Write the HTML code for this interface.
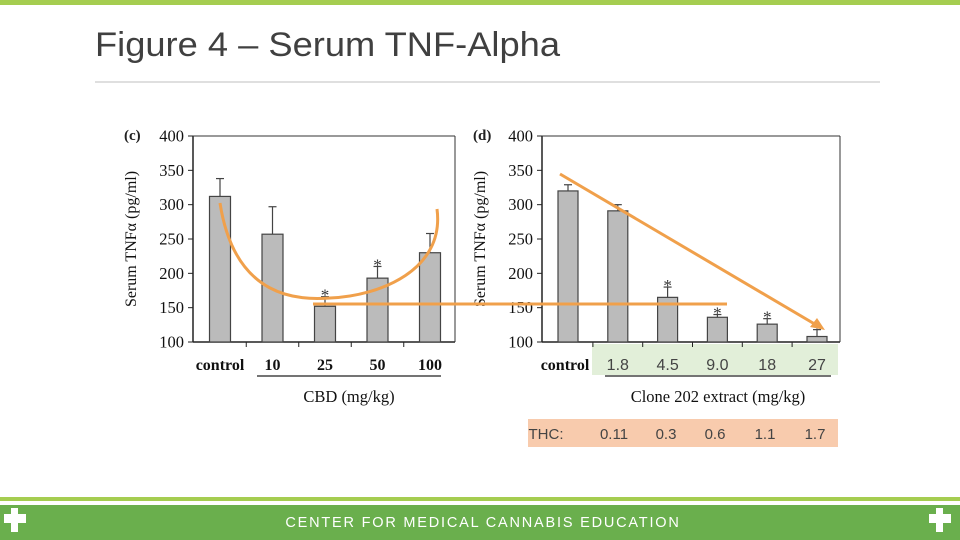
<!DOCTYPE html>
<html><head><meta charset="utf-8"><style>
body{margin:0;width:960px;height:540px;overflow:hidden;background:#fff;font-family:"Liberation Sans",sans-serif}
svg{position:absolute;left:0;top:0}
.serif{font-family:"Liberation Serif",serif}
</style></head><body>
<svg width="960" height="540">
<rect x="0" y="0" width="960" height="5" fill="#a5cd50"/>
<text x="95" y="56" font-size="34" fill="#404040" font-family="Liberation Sans" textLength="465" lengthAdjust="spacingAndGlyphs">Figure 4 – Serum TNF-Alpha</text>
<line x1="95" y1="82" x2="880" y2="82" stroke="#bfbfbf" stroke-width="1"/>
<rect x="592" y="344" width="246" height="31" fill="#e2efd9"/>
<rect x="528" y="419" width="310" height="28" fill="#f8cbad"/>
<g id="c"></g>
<g id="d"></g>
<g id="ov"></g>
<rect x="0" y="497" width="960" height="4" fill="#a5cd50"/>
<rect x="0" y="505" width="960" height="35" fill="#6aaf4d"/>
<text x="483" y="527" text-anchor="middle" font-size="14.5" fill="#fff" letter-spacing="1.8">CENTER FOR MEDICAL CANNABIS EDUCATION</text>
<g fill="#fff"><rect x="11" y="508" width="7" height="24"/><rect x="4" y="514" width="22" height="9"/></g>
<g fill="#fff"><rect x="936" y="508" width="7" height="24"/><rect x="929" y="514" width="22" height="9"/></g>
</svg>
<script>
const cCats=["control","10","25","50","100"];
const cVals=[312,257,152,193,230];
const cErr=[338,297,166,210,258];
const cStar=[false,false,true,true,false];
const dCats=["control","1.8","4.5","9.0","18","27"];
const dVals=[320,291,165,136,126,108];
const dErr=[329,300,180,140,134,118];
const dStar=[false,false,true,true,true,true];
const yTicks=[100,150,200,250,300,350,400];
const thcLabels=["THC:","0.11","0.3","0.6","1.1","1.7"];
const NS="http://www.w3.org/2000/svg";
function el(p,t,a,txt){const e=document.createElementNS(NS,t);for(const k in a)e.setAttribute(k,a[k]);if(txt!=null)e.textContent=txt;p.appendChild(e);return e;}
function yS(v){return 342-(v-100)*(206/300);}
function chart(g,ax,right,cats,vals,errs,stars,x0,step,bw,sans,label,lineStart,lineEnd,tag){
 el(g,"line",{x1:ax,y1:136,x2:ax,y2:342,stroke:"#222","stroke-width":1.5});
 el(g,"line",{x1:ax,y1:342,x2:right,y2:342,stroke:"#222","stroke-width":1.5});
 el(g,"line",{x1:ax,y1:136,x2:right,y2:136,stroke:"#333","stroke-width":1});
 el(g,"line",{x1:right,y1:136,x2:right,y2:342,stroke:"#333","stroke-width":1});
 el(g,"text",{x:ax-69,y:140,"font-size":15,"font-weight":"bold",class:"serif",fill:"#222"},tag);
 yTicks.forEach(v=>{const y=yS(v);
  el(g,"line",{x1:ax-5,y1:y,x2:ax,y2:y,stroke:"#222"});
  const tx=el(g,"text",{x:ax-9,y:y+5.5,"text-anchor":"end","font-size":16.5,class:"serif",fill:"#111"},v);
  });
 el(g,"text",{transform:`translate(${ax-57},239) rotate(-90)`,"text-anchor":"middle","font-size":16,class:"serif",fill:"#111"},"Serum TNFα (pg/ml)");
 cats.forEach((c,i)=>{const cx=x0+i*step;
  if(i>0){el(g,"line",{x1:cx-step/2,y1:342,x2:cx-step/2,y2:347,stroke:"#222"});}
  const y=yS(vals[i]);
  const ey=yS(errs[i]);
  el(g,"line",{x1:cx,y1:ey,x2:cx,y2:y,stroke:"#444","stroke-width":1.2});
  el(g,"line",{x1:cx-4,y1:ey,x2:cx+4,y2:ey,stroke:"#444","stroke-width":1.2});
  const b=el(g,"rect",{x:cx-bw/2,y:y,width:bw,height:342-y,fill:"#bbbbbb",stroke:"#444","stroke-width":1.2});
  
  if(stars[i]){el(g,"text",{x:cx,y:ey+4,"text-anchor":"middle","font-size":17,class:"serif",fill:"#333"},"*");}
  const isSans=sans&&i>0;
  const lt=el(g,"text",{x:i==0&&sans?cx-3:cx,y:370,"text-anchor":"middle","font-size":isSans?16:16,"font-weight":isSans?"normal":"bold",class:isSans?"":"serif",fill:isSans?"#444":"#111"},c);
  
 });
 el(g,"line",{x1:lineStart,y1:376,x2:lineEnd,y2:376,stroke:"#222","stroke-width":1.2});
 el(g,"text",{x:(lineStart+lineEnd)/2,y:402,"text-anchor":"middle","font-size":16.5,class:"serif",fill:"#111"},label);
}
chart(document.getElementById('c'),193,455,cCats,cVals,cErr,cStar,220,52.5,21,false,"CBD (mg/kg)",257,441,"(c)");
chart(document.getElementById('d'),542,840,dCats,dVals,dErr,dStar,568,49.8,20,true,"Clone 202 extract (mg/kg)",605,831,"(d)");
const tx=[546,614,666,715,765,815];
const tg=document.getElementById('ov');
thcLabels.forEach((t,i)=>{const e=el(tg,"text",{x:tx[i],y:439,"text-anchor":"middle","font-size":15,fill:"#444"},t);
 });
const o="#f0a04b";
el(tg,"path",{d:"M220,203 C235,300 300,300 330,298 C380,296 445,270 437,209",fill:"none",stroke:o,"stroke-width":3});
el(tg,"line",{x1:313,y1:304,x2:727,y2:304,stroke:o,"stroke-width":3});
el(tg,"line",{x1:560,y1:174,x2:818,y2:326,stroke:o,"stroke-width":3});
el(tg,"polygon",{points:"825,330 810,327 817,318",fill:o});
</script>
</body></html>
